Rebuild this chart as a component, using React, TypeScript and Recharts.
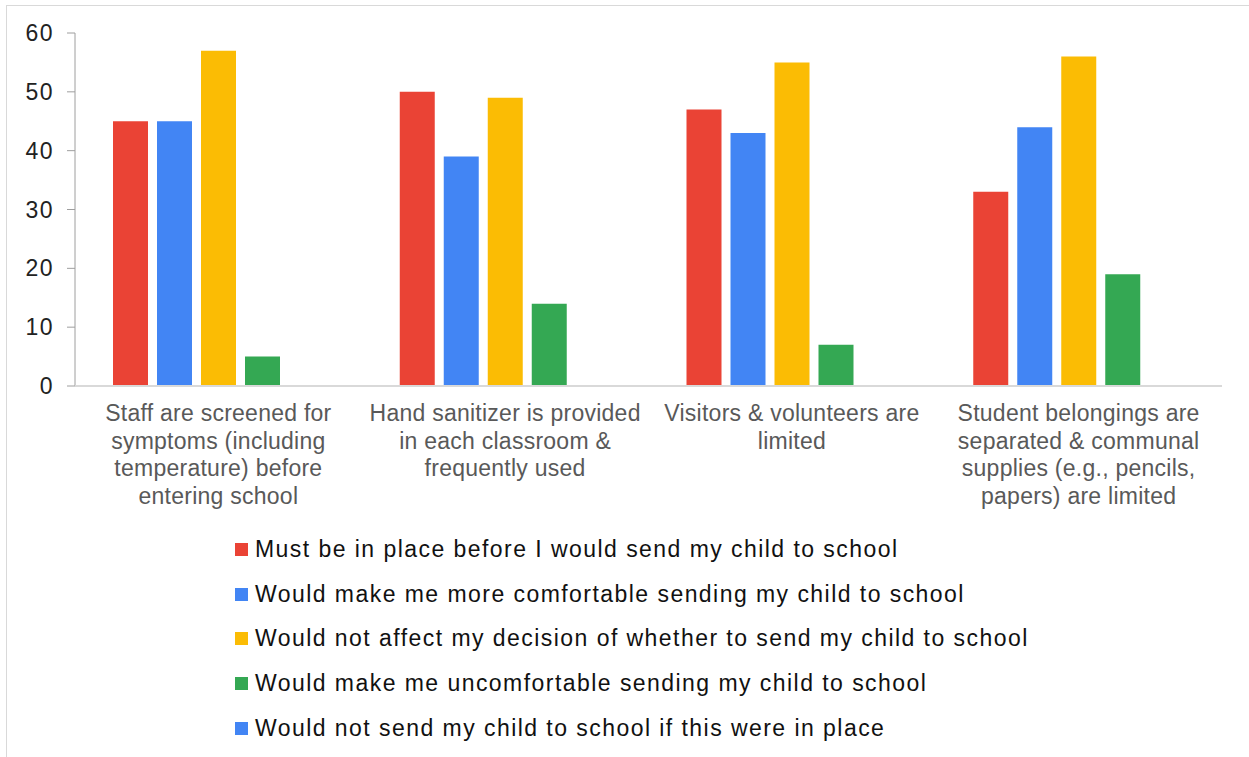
import React from 'react';
import { BarChart, Bar, XAxis, YAxis } from 'recharts';

// category labels, with the line breaks used in the picture
const categories = [
  'Staff are screened for\nsymptoms (including\ntemperature) before\nentering school',
  'Hand sanitizer is provided\nin each classroom &\nfrequently used',
  'Visitors & volunteers are\nlimited',
  'Student belongings are\nseparated & communal\nsupplies (e.g., pencils,\npapers) are limited',
];

const seriesNames = [
  'Must be in place before I would send my child to school',
  'Would make me more comfortable sending my child to school',
  'Would not affect my decision of whether to send my child to school',
  'Would make me uncomfortable sending my child to school',
  'Would not send my child to school if this were in place',
];
const seriesColors = ['#EA4335', '#4285F4', '#FBBC04', '#34A853', '#4285F4'];

const mustBe = [45, 50, 47, 33];
const moreComfortable = [45, 39, 43, 44];
const notAffect = [57, 49, 55, 56];
const uncomfortable = [5, 14, 7, 19];
const wouldNotSend = [0, 0, 0, 0];

const yTicks = [0, 10, 20, 30, 40, 50, 60];

const seriesValues = [mustBe, moreComfortable, notAffect, uncomfortable, wouldNotSend];
const data = categories.map((name, i) => {
  const row: Record<string, string | number> = { name };
  seriesValues.forEach((vals, s) => {
    row['s' + s] = vals[i];
  });
  return row;
});

const FONT = '"Liberation Sans", Arial, sans-serif';

const CategoryTick = ({ x, y, payload }: any) => {
  const lines = String(payload.value).split('\n');
  return (
    <text
      x={x}
      y={y}
      textAnchor="middle"
      fill="#595959"
      fontSize={23}
      fontFamily={FONT}
      style={{ letterSpacing: '0.25px' }}
    >
      {lines.map((line, i) => (
        <tspan key={i} x={x} dy={i === 0 ? 35 : 27.5}>
          {line}
        </tspan>
      ))}
    </text>
  );
};

export default function App() {
  return (
    <div
      style={{
        position: 'absolute',
        left: 0,
        top: 0,
        width: 1249,
        height: 757,
        background: '#fff',
        fontFamily: FONT,
        overflow: 'hidden',
      }}
    >
      {/* frame lines on top and left */}
      <div style={{ position: 'absolute', left: 6, top: 5, width: 1243, height: 1, background: '#d9d9d9' }} />
      <div style={{ position: 'absolute', left: 6, top: 5, width: 1, height: 752, background: '#d9d9d9' }} />

      <div style={{ position: 'absolute', left: 0, top: 0 }}>
        <BarChart
          width={1249}
          height={520}
          data={data}
          margin={{ top: 33, right: 27, left: 0, bottom: 0 }}
          barCategoryGap={38}
          barGap={9}
        >
          <YAxis
            width={75}
            domain={[0, 60]}
            ticks={yTicks}
            interval={0}
            tickSize={8}
            tickMargin={13}
            axisLine={{ stroke: '#9e9e9e' }}
            tickLine={{ stroke: '#9e9e9e' }}
            tick={{ fill: '#222', fontSize: 23, fontFamily: FONT, style: { letterSpacing: '1.5px' } }}
          />
          <XAxis
            dataKey="name"
            height={134}
            interval={0}
            tickSize={0}
            tickMargin={0}
            tickLine={false}
            axisLine={{ stroke: '#d9d9d9', strokeWidth: 2 }}
            tick={<CategoryTick />}
          />
          {seriesNames.map((n, s) => (
            <Bar key={n} dataKey={'s' + s} name={n} fill={seriesColors[s]} isAnimationActive={false} />
          ))}
        </BarChart>
      </div>

      {/* legend */}
      <div style={{ position: 'absolute', left: 235, top: 527 }}>
        {seriesNames.map((n, s) => (
          <div key={n} style={{ display: 'flex', alignItems: 'center', height: 44.75 }}>
            <span
              style={{ display: 'inline-block', width: 13, height: 13, background: seriesColors[s], marginRight: 7 }}
            />
            <span style={{ fontSize: 23, color: '#111', whiteSpace: 'nowrap', letterSpacing: '1.45px' }}>{n}</span>
          </div>
        ))}
      </div>
    </div>
  );
}
